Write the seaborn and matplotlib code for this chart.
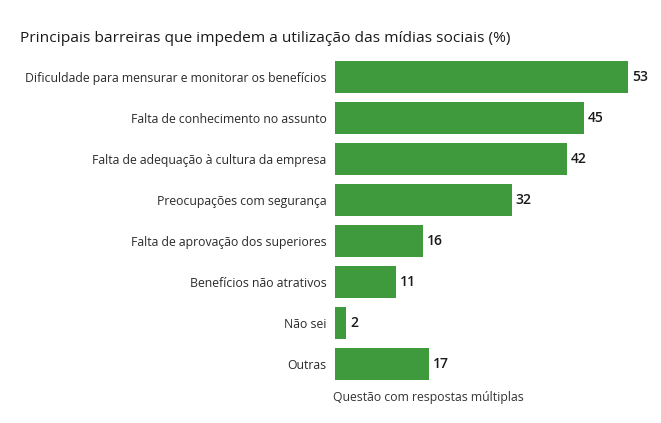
import pandas as pd
import matplotlib.pyplot as plt
import seaborn as sns

categories = ['Dificuldade para mensurar e monitorar os benefícios',
              'Falta de conhecimento no assunto',
              'Falta de adequação à cultura da empresa',
              'Preocupações com segurança',
              'Falta de aprovação dos superiores',
              'Benefícios não atrativos',
              'Não sei',
              'Outras']
values = [53, 45, 42, 32, 16, 11, 2, 17]

title = 'Principais barreiras que impedem a utilização das mídias sociais (%)'
note = 'Questão com respostas múltiplas'

sns.set_theme(style='white')
plt.rcParams['font.family'] = ['Open Sans', 'DejaVu Sans']

df = pd.DataFrame({'cat': categories, 'val': values})

fig = plt.figure(figsize=(6.61, 4.23), dpi=100)
ax = fig.add_axes([335 / 661, 0.091, (628 - 335) / 661, 0.8664 - 0.091])
sns.barplot(data=df, x='val', y='cat', orient='h', color='#3f9a3d',
            saturation=1, width=0.78, linewidth=0, ax=ax)
ax.set_xlim(0, 53)
ax.set_xlabel('')
ax.set_ylabel('')
ax.set_xticks([])
ax.tick_params(axis='y', length=0, pad=6, labelsize=8.8, labelcolor='#2a2a2a')
sns.despine(ax=ax, left=True, bottom=True)

# rótulos de valor
for i, v in enumerate(values):
    ax.text(v + 0.7, i, str(v), va='center', ha='left', fontsize=10,
            fontweight='semibold', color='#1a1a1a', clip_on=False)

fig.text(20 / 661, 1 - 38 / 423, title, fontsize=11.15, color='#1a1a1a',
         va='center', ha='left')
fig.text(333 / 661, 1 - 397 / 423, note, fontsize=8.8, color='#333333',
         va='center', ha='left')

fig.savefig('out.png', dpi=100)
